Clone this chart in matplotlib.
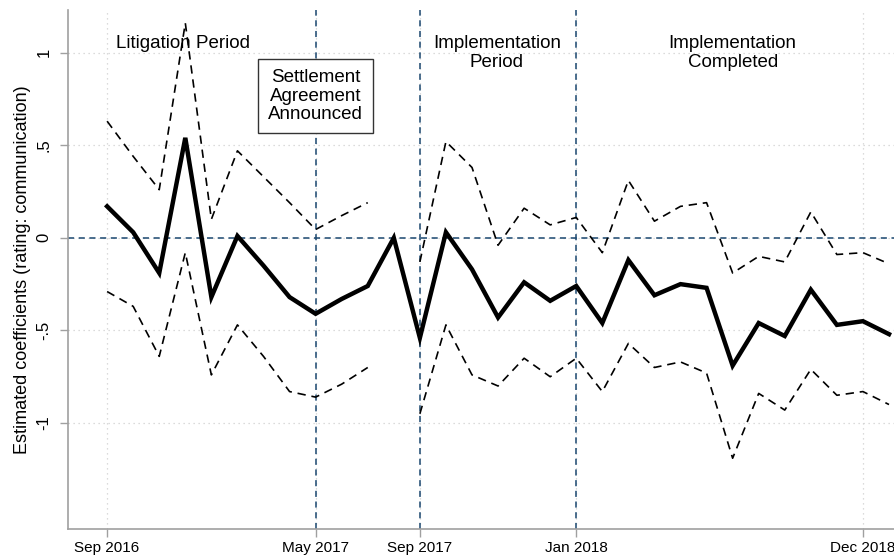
import numpy as np
import matplotlib.pyplot as plt

# ==============================
# Data
# ==============================

period = np.arange(31)

coef = [0.17, 0.03, -0.19, 0.54, -0.32, 0.01, -0.15, -0.32, -0.41, -0.33, -0.26,
        0.00, -0.54, 0.03, -0.17, -0.43, -0.24, -0.34, -0.26, -0.46, -0.12,
        -0.31, -0.25, -0.27, -0.69, -0.46, -0.53, -0.28, -0.47, -0.45, -0.52]

ci_upper = [0.63, 0.44, 0.26, 1.16, 0.10, 0.47, 0.33, 0.19, 0.045, 0.12, 0.19,
            np.nan, -0.13, 0.52, 0.38, -0.04, 0.16, 0.07, 0.11, -0.08, 0.31,
            0.09, 0.17, 0.19, -0.19, -0.10, -0.13, 0.14, -0.09, -0.08, -0.14]

ci_lower = [-0.29, -0.37, -0.64, -0.08, -0.74, -0.47, -0.64, -0.83, -0.86, -0.79, -0.70,
            np.nan, -0.95, -0.47, -0.74, -0.80, -0.65, -0.75, -0.65, -0.83, -0.57,
            -0.70, -0.67, -0.73, -1.19, -0.84, -0.93, -0.71, -0.85, -0.83, -0.90]

tick_pos = [0, 8, 12, 18, 29]
tick_labels = ["Sep 2016", "May 2017", "Sep 2017", "Jan 2018", "Dec 2018"]
event_pos = [8, 12, 18]

y_ticks = [-1, -0.5, 0, 0.5, 1]
y_tick_labels = ["-1", "-.5", "0", ".5", "1"]

# ==============================
# Plot
# ==============================

plt.rcParams['font.family'] = ['Liberation Sans', 'DejaVu Sans']

navy = "#1a476f"
spine_gray = "#a0a0a0"

fig = plt.figure(figsize=(8.95, 5.59), dpi=100)
ax = fig.add_axes([0.076, 0.0537, 0.924, 0.928])

ax.plot(period, ci_upper, color="black", lw=1.2, ls=(0, (5, 3.5)))
ax.plot(period, ci_lower, color="black", lw=1.2, ls=(0, (5, 3.5)))
ax.plot(period, coef, color="black", lw=3.2, solid_joinstyle="miter")

ax.axhline(0, color=navy, lw=1.1, ls=(0, (4, 3)), zorder=1)
for p in event_pos:
    ax.axvline(p, color=navy, lw=1.1, ls=(0, (4, 3)), zorder=1)

ax.set_xlim(-1.5, 30.23)
ax.set_ylim(-1.572, 1.229)

ax.set_xticks(tick_pos)
ax.set_xticklabels(tick_labels, fontsize=11)
ax.set_yticks(y_ticks)
ax.set_yticklabels(y_tick_labels, fontsize=12, rotation=90, va="center")

ax.grid(True, color="#d0d0d0", ls=(0, (1, 3)), lw=0.9, zorder=0)
ax.set_axisbelow(True)

for side in ["top", "right"]:
    ax.spines[side].set_visible(False)
for side in ["left", "bottom"]:
    ax.spines[side].set_color(spine_gray)
    ax.spines[side].set_linewidth(1.2)
ax.tick_params(axis="both", color=spine_gray, length=6, width=1.0, labelcolor="black")
ax.tick_params(axis="x", pad=3)
ax.tick_params(axis="y", pad=6)

ax.set_ylabel("Estimated coefficients (rating: communication)", fontsize=13, labelpad=4)

ax.text(2.92, 1.05, "Litigation Period", ha="center", va="center", fontsize=13.5)
ax.text(8.0, 0.765, "Settlement\nAgreement\nAnnounced", ha="center", va="center",
        fontsize=13.5, linespacing=1.1,
        bbox=dict(boxstyle="square,pad=0.55", fc="white", ec="#333333", lw=1.0))
ax.text(14.95, 0.998, "Implementation\nPeriod", ha="center", va="center",
        fontsize=13.5, linespacing=1.1)
ax.text(24.0, 0.998, "Implementation\nCompleted", ha="center", va="center",
        fontsize=13.5, linespacing=1.1)

plt.savefig("out.png", dpi=100)
